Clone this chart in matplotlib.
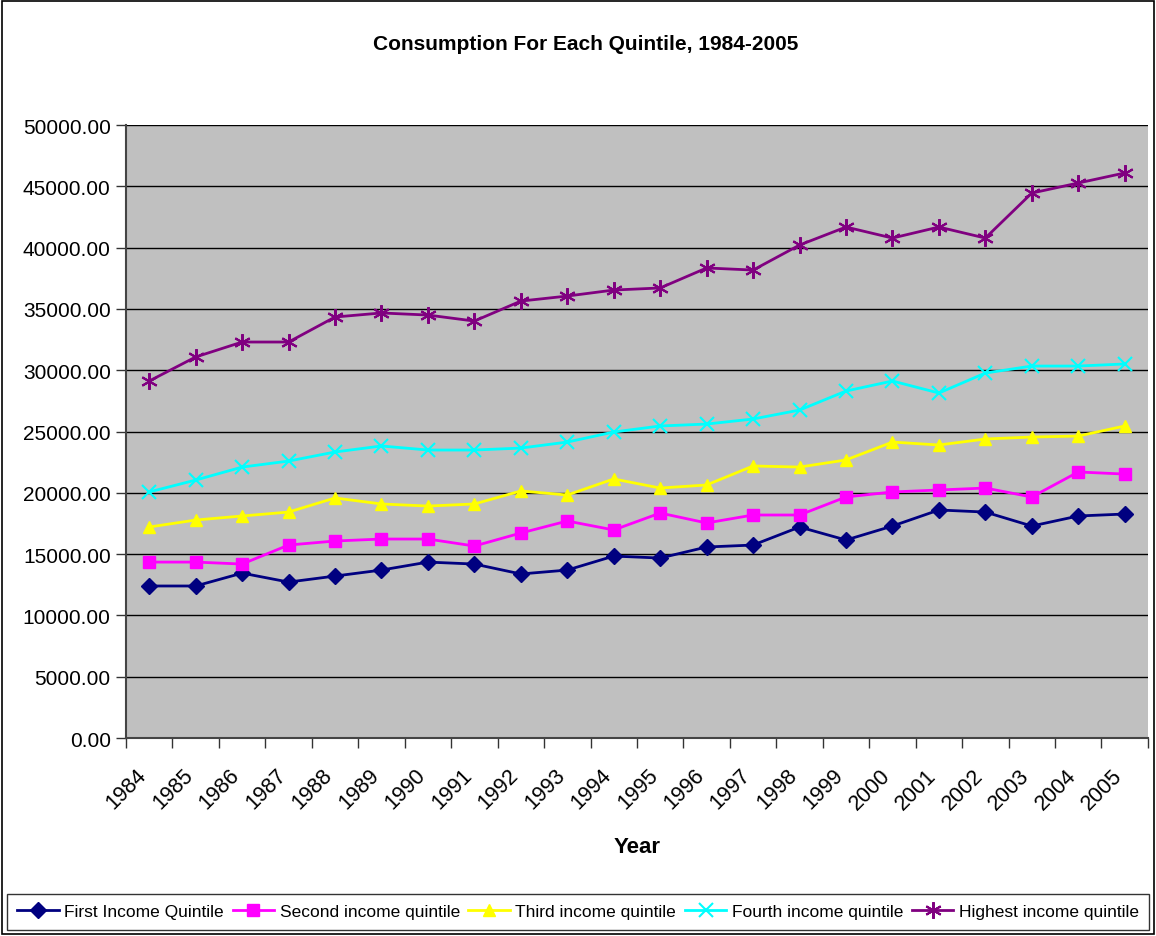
import numpy as np
import matplotlib
matplotlib.use("Agg")
import matplotlib.pyplot as plt
from matplotlib.patches import Rectangle
from matplotlib.transforms import ScaledTranslation

plt.rcParams['font.family'] = ['Liberation Sans', 'DejaVu Sans']

# consumption per quintile
years = list(range(1984, 2006))
first_q = [12400, 12400, 13450, 12720, 13210, 13700, 14350, 14190, 13380, 13700, 14840,
           14680, 15580, 15740, 17210, 16150, 17290, 18600, 18430, 17290, 18110, 18270]
second_q = [14350, 14350, 14190, 15740, 16070, 16230, 16230, 15660, 16720, 17700, 16970,
            18350, 17540, 18190, 18190, 19660, 20070, 20230, 20390, 19660, 21700, 21530]
third_q = [17210, 17780, 18110, 18430, 19580, 19090, 18920, 19090, 20150, 19820, 21130,
           20390, 20640, 22190, 22100, 22680, 24140, 23900, 24390, 24550, 24630, 25450]
fourth_q = [20070, 21040, 22100, 22590, 23330, 23820, 23490, 23490, 23650, 24140, 24960,
            25450, 25610, 26020, 26750, 28300, 29120, 28140, 29770, 30340, 30340, 30510]
highest_q = [29120, 31080, 32300, 32300, 34340, 34670, 34500, 34010, 35640, 36050, 36540,
             36710, 38340, 38170, 40210, 41680, 40780, 41680, 40780, 44450, 45270, 46090]

series = [
    ("First Income Quintile", first_q, "#000080", "D", 8),
    ("Second income quintile", second_q, "#FF00FF", "s", 8),
    ("Third income quintile", third_q, "#FFFF00", "^", 9),
    ("Fourth income quintile", fourth_q, "#00FFFF", "x", 10),
    ("Highest income quintile", highest_q, "#800080", (6, 2, 0), 12),
]

fig = plt.figure(figsize=(11.56, 9.37), dpi=100)
ax = fig.add_axes([0.109, 0.2113, 0.884, 0.6542])
ax.set_facecolor("#C0C0C0")

x = np.arange(len(years))
for name, vals, col, mk, ms in series:
    ax.plot(x, vals, color=col, marker=mk, markersize=ms, linewidth=2,
            markeredgewidth=1.5 if mk in ("x", (6, 2, 0)) else 1,
            markeredgecolor=col, markerfacecolor=col, label=name, zorder=3)

ax.set_ylim(0, 50000)
ax.set_yticks(np.arange(0, 50001, 5000))
ax.set_yticklabels(["%.2f" % v for v in np.arange(0, 50001, 5000)], fontsize=15)
ax.yaxis.grid(True, color="black", linewidth=1)
ax.set_axisbelow(True)

ax.set_xlim(-0.5, len(years) - 0.5)
ax.set_xticks(np.arange(-0.5, len(years), 1.0))
ax.set_xticklabels([])
ax.set_xticks(x, minor=True)
ax.set_xticklabels([str(y) for y in years], minor=True, rotation=45, ha="right",
                   rotation_mode="anchor", fontsize=15.5)
ax.tick_params(axis="x", which="minor", length=0, pad=19)
ax.tick_params(axis="x", which="major", length=7, width=1, color="#333333")
ax.tick_params(axis="y", length=7, width=1, color="#333333", pad=4)

# nudge the rotated year labels to the left so they sit under their points
shift = ScaledTranslation(-0.13, 0, fig.dpi_scale_trans)
for tick in ax.xaxis.get_minor_ticks():
    tick.label1.set_transform(tick.label1.get_transform() + shift)

for side in ("top", "right"):
    ax.spines[side].set_visible(False)
ax.spines["left"].set_color("#444444")
ax.spines["left"].set_linewidth(1.5)
ax.spines["bottom"].set_color("#444444")
ax.spines["bottom"].set_linewidth(1.5)

ax.set_xlabel("Year", fontsize=16, fontweight="bold", labelpad=16)
fig.text(0.507, 0.952, "Consumption For Each Quintile, 1984-2005", ha="center",
         va="center", fontsize=15, fontweight="bold")

leg = fig.legend(loc="center", bbox_to_anchor=(0.5, 0.026), ncol=5, fontsize=12.5,
                 frameon=True, fancybox=False, edgecolor="black", handlelength=2.4,
                 columnspacing=0.5, handletextpad=0.3, borderpad=0.6)
leg.get_frame().set_linewidth(1)

# outer chart border
fig.patches.append(Rectangle((0.002, 0.002), 0.996, 0.996, transform=fig.transFigure,
                             fill=False, edgecolor="black", linewidth=1.2))

fig.savefig("out.png", dpi=100)
